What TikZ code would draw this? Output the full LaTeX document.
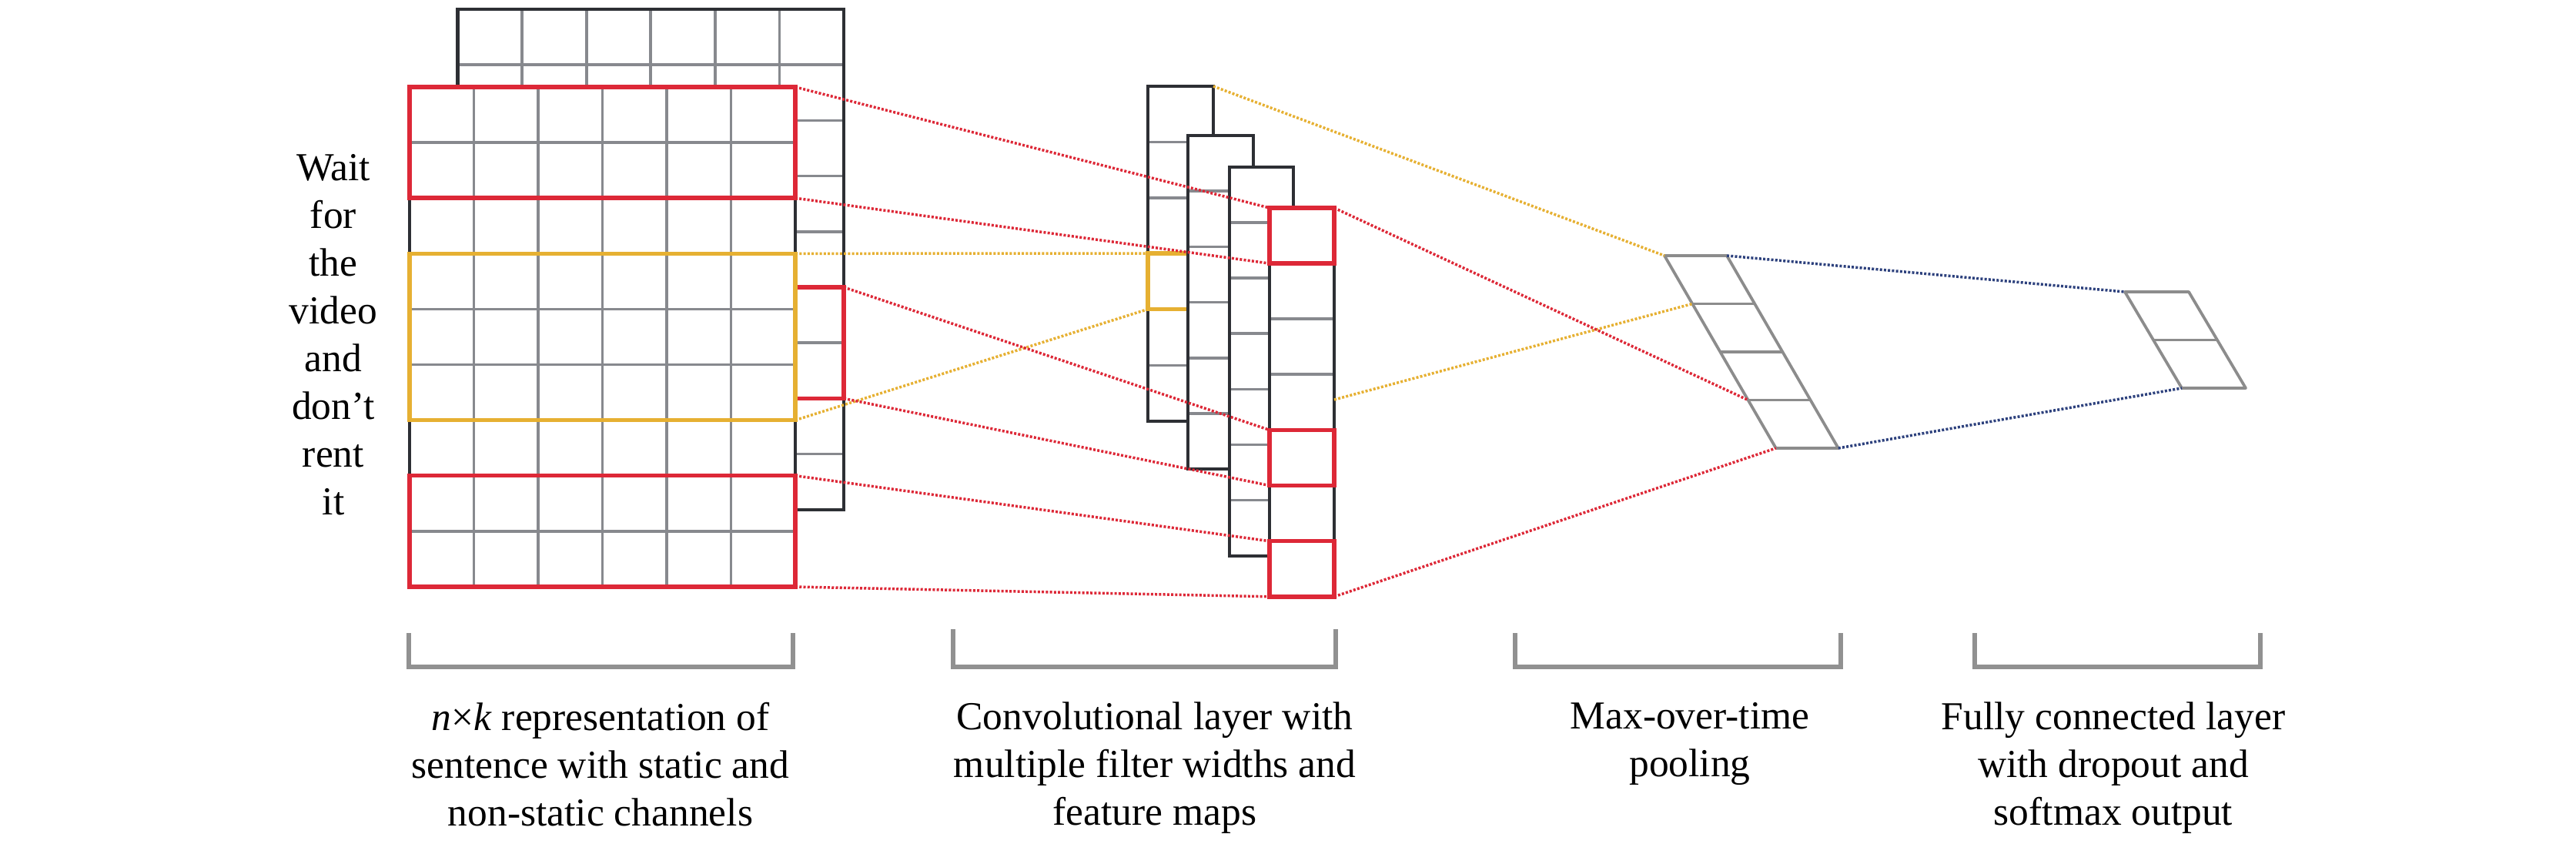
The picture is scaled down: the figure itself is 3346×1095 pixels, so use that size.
\documentclass[tikz,border=0pt]{standalone}
\usepackage{fontspec}
\newfontfamily\lserif{LiberationSerif}[Extension=.ttf, UprightFont=*-Regular, ItalicFont=*-Italic, BoldFont=*-Bold]
\definecolor{hred}{RGB}{221,40,55}
\definecolor{hyel}{RGB}{230,176,50}
\definecolor{hblue}{RGB}{45,65,125}
\definecolor{gline}{RGB}{135,137,142}
\definecolor{dline}{RGB}{45,47,52}
\definecolor{bgray}{RGB}{145,145,145}
\definecolor{pgray}{RGB}{140,140,140}
\begin{document}
\begin{tikzpicture}[x=0.2pt,y=-0.2pt,
  grid/.style={gline, line width=0.75pt},
  outline/.style={dline, line width=0.9pt},
  hlred/.style={hred, line width=1.1pt},
  hlyel/.style={hyel, line width=1.1pt},
  link/.style={line width=0.7pt, dash pattern=on 0.6pt off 0.45pt},
  redlink/.style={link, hred},
  yellink/.style={link, hyel},
  bluelink/.style={link, hblue},
  pcell/.style={pgray, line width=0.75pt, line join=round},
  bracket/.style={bgray, line width=1.2pt},
  txt/.style={font=\lserif\fontsize{10.3}{12.4}\selectfont, align=center, anchor=north, inner sep=0pt}]
\useasboundingbox (0,0) rectangle (3346,1095);

% ---------- back matrix (static channel) ----------
\fill[white] (594.5,12) rectangle (1096,662);
\foreach \i in {1,...,5} \draw[grid] (594.5+\i*83.58,12) -- (594.5+\i*83.58,662);
\foreach \j in {1,...,8} \draw[grid] (594.5,12+\j*72.2) -- (1096,12+\j*72.2);
\draw[outline] (594.5,12) rectangle (1096,662);
\draw[hlred] (1033,373) rectangle (1096,517.4);

% ---------- front matrix (non-static channel) ----------
\fill[white] (532,113) rectangle (1033,762);
\foreach \i in {1,...,5} \draw[grid] (532+\i*83.5,113) -- (532+\i*83.5,762);
\foreach \j in {1,...,8} \draw[grid] (532,113+\j*72.1) -- (1033,113+\j*72.1);
\draw[outline] (532,113) rectangle (1033,762);
\draw[hlred] (532,113) rectangle (1033,257.2);
\draw[hlyel] (532,329.3) rectangle (1033,545.6);
\draw[hlred] (532,617.7) rectangle (1033,762);

\coordinate (fr1a) at (1033,113);
\coordinate (fr1b) at (1033,257.2);
\coordinate (fya) at (1033,329.3);
\coordinate (fyb) at (1033,545.6);
\coordinate (bra) at (1096,373);
\coordinate (brb) at (1096,517.4);
\coordinate (fr3a) at (1033,617.7);
\coordinate (fr3b) at (1033,762);

% ---------- sentence ----------
\node[txt] (sent) at (433,199) {Wait\\for\\the\\video\\and\\don’t\\rent\\it};

% ---------- feature maps ----------
% map 1
\fill[white] (1491,112) rectangle (1576,547);
\foreach \j in {1,...,5} \draw[grid] (1491,112+\j*72.5) -- (1576,112+\j*72.5);
\draw[outline] (1491,112) rectangle (1576,547);
\draw[hlyel] (1491,329) rectangle (1576,401.5);
% map 2
\fill[white] (1543,176) rectangle (1628,609);
\foreach \j in {1,...,5} \draw[grid] (1543,176+\j*72.2) -- (1628,176+\j*72.2);
\draw[outline] (1543,176) rectangle (1628,609);
% map 3
\fill[white] (1597,217) rectangle (1680,722);
\foreach \j in {1,...,6} \draw[grid] (1597,217+\j*72.1) -- (1680,217+\j*72.1);
\draw[outline] (1597,217) rectangle (1680,722);
% map 4
\fill[white] (1649,270) rectangle (1733,774.8);
\foreach \j in {1,...,6} \draw[grid] (1649,270+\j*72.1) -- (1733,270+\j*72.1);
\draw[outline] (1649,270) rectangle (1733,774.8);
\draw[hlred] (1649,270) rectangle (1733,342.1);
\draw[hlred] (1649,558.4) rectangle (1733,630.5);
\draw[hlred] (1649,702.7) rectangle (1733,774.8);

\coordinate (m1a) at (1491,329);
\coordinate (m1b) at (1491,401.5);
\coordinate (m4a) at (1649,270);
\coordinate (m4b) at (1649,342.1);
\coordinate (m4c) at (1649,558.4);
\coordinate (m4d) at (1649,630.5);
\coordinate (m4e) at (1649,702.7);
\coordinate (m4f) at (1649,774.8);
\coordinate (m1tr) at (1576,112);
\coordinate (m4r) at (1733,519);
\coordinate (m4tr) at (1733,270);
\coordinate (m4br) at (1733,774.8);

% ---------- max-over-time pooling ----------
\foreach \k in {0,...,4} \coordinate (p\k) at (2162+\k*36.2,332+\k*62.5);
\coordinate (pTR) at (2243,332);
\coordinate (pBR) at (2387.8,582);
\draw[pcell] (p0) -- (pTR) -- (pBR) -- (p4) -- cycle;
\foreach \k in {1,2,3} \draw[pcell] (p\k) -- ++(81,0);

% ---------- fully connected output ----------
\foreach \k in {0,1,2} \coordinate (o\k) at (2760+\k*37,379+\k*62.5);
\coordinate (oTR) at (2843,379);
\coordinate (oBR) at (2917,504);
\draw[pcell] (o0) -- (oTR) -- (oBR) -- (o2) -- cycle;
\draw[pcell] (o1) -- ++(82,0);

% ---------- connectors ----------
\draw[redlink] (fr1a) -- (m4a);
\draw[redlink] (fr1b) -- (m4b);
\draw[yellink] (fya) -- (m1a);
\draw[yellink] (fyb) -- (m1b);
\draw[redlink] (bra) -- (m4c);
\draw[redlink] (brb) -- (m4d);
\draw[redlink] (fr3a) -- (m4e);
\draw[redlink] (fr3b) -- (m4f);
\draw[yellink] (m1tr) -- (p0);
\draw[yellink] (m4r) -- (p1);
\draw[redlink] (m4tr) -- (p3);
\draw[redlink] (m4br) -- (p4);
\draw[bluelink] (pTR) -- (o0);
\draw[bluelink] (pBR) -- (o2);

% ---------- brackets ----------
\draw[bracket] (531,822) -- (531,866) -- (1030,866) -- (1030,822);
\draw[bracket] (1238,817) -- (1238,866) -- (1735,866) -- (1735,817);
\draw[bracket] (1968,822) -- (1968,866) -- (2391,866) -- (2391,822);
\draw[bracket] (2565,822) -- (2565,866) -- (2936,866) -- (2936,822);

% ---------- labels ----------
\node[txt] (l1) at (780,911) {\textit{n}×\textit{k} representation of\\sentence with static and\\non-static channels};
\node[txt] (l2) at (1500,911) {Convolutional layer with\\multiple filter widths and\\feature maps};
\node[txt] (l3) at (2195,911) {Max-over-time\\pooling};
\node[txt] (l4) at (2745,911) {Fully connected layer\\with dropout and\\softmax output};
\end{tikzpicture}
\end{document}
